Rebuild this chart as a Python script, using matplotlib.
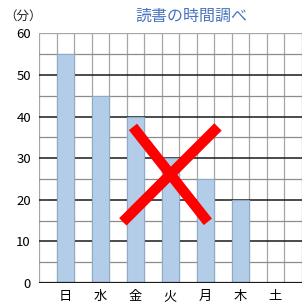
import matplotlib
matplotlib.use('Agg')
import matplotlib.pyplot as plt
import numpy as np

plt.rcParams['font.family'] = ['Noto Sans CJK JP', 'DejaVu Sans']

# データ
days = ['日', '水', '金', '火', '月', '木', '土']
minutes = [55, 45, 40, 30, 25, 20, 0]
title = '読書の時間調べ'
unit = '（分）'

fig = plt.figure(figsize=(3.04, 3.05), dpi=100)
ax = fig.add_axes([0.129, 0.072, 0.863, 0.819])

x = np.arange(len(days))
ax.set_xlim(-0.75, len(days) - 0.25)
ax.set_ylim(0, 60)

# 格子線
for gx in np.arange(-0.75, len(days) - 0.2, 0.5):
    ax.axvline(gx, color='#a6a6a6', lw=0.9, zorder=1)
for gy in range(5, 60, 10):
    ax.axhline(gy, color='#8c8c8c', lw=0.9, zorder=1)
for gy in range(10, 60, 10):
    ax.axhline(gy, color='#1a1a1a', lw=1.1, zorder=1)
ax.axhline(60, color='#a6a6a6', lw=0.9, zorder=1)
ax.axhline(0, color='#1a1a1a', lw=1.6, zorder=3)

ax.bar(x, minutes, width=0.5, color='#b3cde8', edgecolor='#8eaacb', lw=0.8, zorder=2)

# 赤いバツ印
ax.plot([1.93, 4.07], [37.5, 14.7], color='#ff0000', lw=7.5, solid_capstyle='butt', zorder=4)
ax.plot([4.36, 1.64], [37.5, 14.7], color='#ff0000', lw=7.5, solid_capstyle='butt', zorder=4)

for s in ax.spines.values():
    s.set_visible(False)

ax.set_xticks(x)
ax.set_xticklabels(days, fontsize=9.5)
ax.set_yticks(range(0, 61, 10))
ax.tick_params(axis='both', length=0, labelsize=9.5)
ax.tick_params(axis='x', pad=5)
ax.tick_params(axis='y', pad=6)

fig.text(0.628, 0.945, title, color='#4a74c0', fontsize=11.5, ha='center', va='center')
fig.text(0.075, 0.945, unit, color='#222222', fontsize=9, ha='center', va='center')

fig.savefig('out.png', dpi=100)
